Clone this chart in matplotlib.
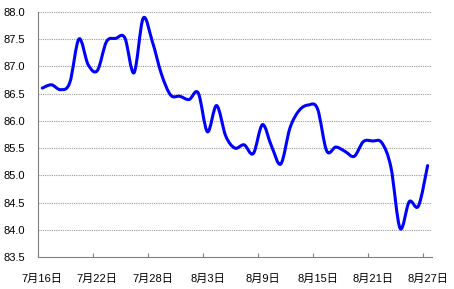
import matplotlib.pyplot as plt
from matplotlib.path import Path
from matplotlib.patches import PathPatch
import numpy as np

# daily values, 7/16 .. 8/27
dates = ['7月16日', '7月17日', '7月18日', '7月19日', '7月20日', '7月21日',
         '7月22日', '7月23日', '7月24日', '7月25日', '7月26日', '7月27日',
         '7月28日', '7月29日', '7月30日', '7月31日', '8月1日', '8月2日',
         '8月3日', '8月4日', '8月5日', '8月6日', '8月7日', '8月8日',
         '8月9日', '8月10日', '8月11日', '8月12日', '8月13日', '8月14日',
         '8月15日', '8月16日', '8月17日', '8月18日', '8月19日', '8月20日',
         '8月21日', '8月22日', '8月23日', '8月24日', '8月25日', '8月26日',
         '8月27日']
values = [86.60, 86.66, 86.57, 86.70, 87.50, 87.03, 86.92, 87.45, 87.51, 87.52,
          86.88, 87.88, 87.45, 86.85, 86.47, 86.45, 86.39, 86.51, 85.80, 86.28,
          85.72, 85.50, 85.56, 85.40, 85.93, 85.53, 85.21, 85.87, 86.19, 86.29,
          86.22, 85.45, 85.52, 85.44, 85.35, 85.62, 85.63, 85.60, 85.15, 84.03,
          84.52, 84.44, 85.18]
y_ticks = [83.5, 84.0, 84.5, 85.0, 85.5, 86.0, 86.5, 87.0, 87.5, 88.0]

fonts = ['Liberation Sans', 'Noto Sans CJK SC']
plt.rcParams['font.family'] = fonts


def smooth_path(xs, ys):
    # excel style "smoothed line": cubic bezier through every point
    pts = np.column_stack([xs, ys])
    n = len(pts)
    verts = [pts[0]]
    codes = [Path.MOVETO]
    for i in range(n - 1):
        p0 = pts[max(i - 1, 0)]
        p1 = pts[i]
        p2 = pts[i + 1]
        p3 = pts[min(i + 2, n - 1)]
        verts += [p1 + (p2 - p0) / 6, p2 - (p3 - p1) / 6, p2]
        codes += [Path.CURVE4] * 3
    return Path(verts, codes)


fig = plt.figure(figsize=(4.54, 2.89), dpi=100)
ax = fig.add_axes([0.083, 0.1097, 0.869, 0.85])

# categories sit between tick marks
x = np.arange(len(values)) + 0.5
line = PathPatch(smooth_path(x, values), facecolor='none', edgecolor='#0000ff',
                 linewidth=2.2, joinstyle='round', capstyle='round', zorder=3)
ax.add_patch(line)

ax.set_xlim(0, len(values))
ax.set_ylim(83.5, 88.0)
ax.set_yticks(y_ticks)
ax.set_yticklabels(['%.1f' % v for v in y_ticks], fontsize=8)
for v in y_ticks[1:]:
    ax.axhline(v, color='#999999', linestyle=(0, (1, 1)), linewidth=0.8, zorder=1)

# tick marks on category boundaries, labels at category centres
ax.set_xticks(np.arange(0, len(values), 6))
ax.set_xticklabels([])
ax.set_xticks(x[::6], minor=True)
ax.set_xticklabels(dates[::6], minor=True, fontsize=8)
ax.tick_params(axis='x', which='major', direction='in', length=3, color='#808080')
ax.tick_params(axis='x', which='minor', length=0, pad=12)
ax.tick_params(axis='y', length=0, pad=9)

for s in ['top', 'right']:
    ax.spines[s].set_visible(False)
for s in ['left', 'bottom']:
    ax.spines[s].set_color('#808080')
    ax.spines[s].set_linewidth(0.8)

fig.savefig('out.png', dpi=100)
